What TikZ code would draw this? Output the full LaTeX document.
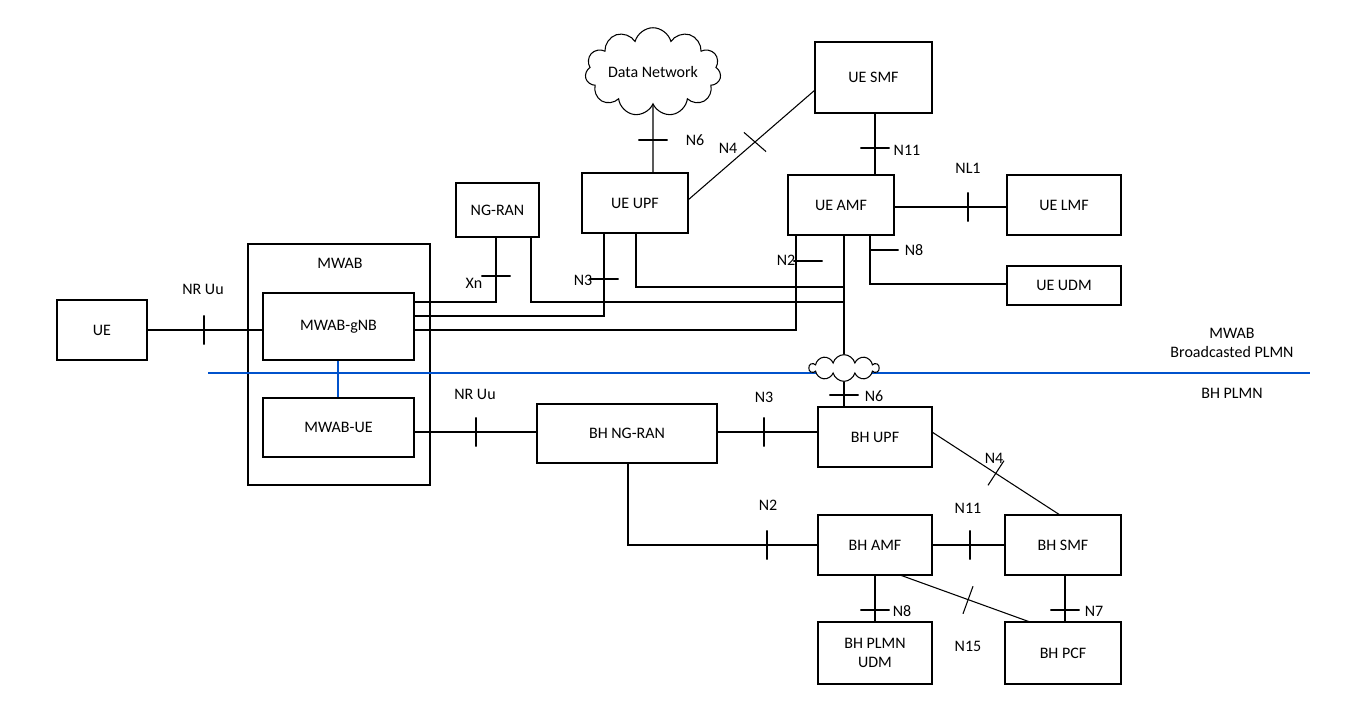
\documentclass[tikz,border=0pt]{standalone}
\usepackage{fontspec}
\setmainfont{Carlito}
\usetikzlibrary{shapes.symbols}
\begin{document}
\begin{tikzpicture}[x=0.75pt,y=-0.75pt,
  box/.style={draw,line width=0.8pt,inner sep=0pt,align=center,font=\fontsize{12}{14}\selectfont},
  lbl/.style={font=\fontsize{12}{14}\selectfont,inner sep=0pt},
  ln/.style={line width=0.8pt},
  tickv/.style={draw,line width=0.8pt,minimum width=0pt,minimum height=22pt,inner sep=0pt},
  tickh/.style={draw,line width=0.8pt,minimum width=22pt,minimum height=0pt,inner sep=0pt},
  blue line/.style={draw=blue!60!cyan!80!black,line width=0.9pt}]
\useasboundingbox (0,0) rectangle (1364,725);
\newcommand{\bx}[6]{\node[box,minimum width={(#4-#2)*0.75pt},minimum height={(#5-#3)*0.75pt}] (#1) at ({(#2+#4)/2},{(#3+#5)/2}) {#6};}
\bx{ue}{57}{300}{147}{360}{UE}
\bx{mwab}{248}{244}{430}{485}{}
\node[lbl] at (340,263) {MWAB};
\bx{gnb}{263}{293}{414}{360}{MWAB-gNB}
\bx{mue}{263}{398}{414}{457}{MWAB-UE}
\bx{ngran}{456}{183}{539}{237}{NG-RAN}
\bx{upf}{582}{173}{688}{233}{UE UPF}
\bx{amf}{788}{175}{894}{235}{UE AMF}
\bx{smf}{815}{42}{932}{113}{UE SMF}
\bx{lmf}{1007}{175}{1121}{235}{UE LMF}
\bx{udm}{1007}{266}{1121}{305}{UE UDM}
\bx{bhran}{537}{404}{717}{463}{BH NG-RAN}
\bx{bhupf}{818}{407}{932}{467}{BH UPF}
\bx{bhamf}{818}{515}{932}{575}{BH AMF}
\bx{bhsmf}{1005}{515}{1121}{575}{BH SMF}
\bx{bhudm}{818}{622}{932}{684}{BH PLMN\\UDM}
\bx{bhpcf}{1005}{622}{1121}{684}{BH PCF}
\node[cloud,draw,line width=0.8pt,cloud puffs=11,minimum width=92pt,minimum height=46pt,inner sep=0pt,font=\fontsize{12}{14}\selectfont,aspect=2] (dn) at (653,72) {Data Network};
% blue line
\draw[blue line] (208,373) -- (1310,373);
\draw[blue line] (gnb.south -| 338,0) -- (mue.north -| 338,0);
% cloud small
\node[cloud,draw,fill=white,line width=0.8pt,cloud puffs=10,minimum width=52pt,minimum height=20pt,inner sep=0pt,aspect=3.5] (sc) at (844,368) {};
% UE side connections
\draw[ln] (ue.east |- 0,330) -- (gnb.west |- 0,330);
\node[tickv] at (204,330) {};
\node[lbl] at (203,289) {NR Uu};
\draw[ln] (414,302) -- (496,302) -- (496,237);
\node[tickh] at (496,276) {};
\node[lbl] at (474,283) {Xn};
\draw[ln] (531,237) -- (531,302) -- (844,302);
\draw[ln] (414,316) -- (604,316) -- (604,233);
\node[tickh] at (604,279) {};
\node[lbl] at (583,280) {N3};
\draw[ln] (414,330) -- (796,330) -- (796,235);
\node[tickh] at (808,261) {};
\node[lbl] at (786,260) {N2};
\draw[ln] (636,233) -- (636,287) -- (844,287);
\draw[ln] (844,235) -- (sc.north);
\draw[ln] (sc.south) -- (bhupf.north -| 844,0);
\node[tickh] at (844,395) {};
\node[lbl] at (874,396) {N6};
\draw[ln] (870,235) -- (870,284) -- (udm.west |- 0,284);
\node[tickh] at (884,250) {};
\node[lbl] at (914,250) {N8};
\draw[ln] (amf.east |- 0,207) -- (lmf.west |- 0,207);
\node[tickv] at (968,207) {};
\node[lbl] at (968,168) {NL1};
\draw[ln] (smf.south -| 875,0) -- (amf.north -| 875,0);
\node[tickh] at (875,148) {};
\node[lbl] at (907,150) {N11};
\draw[ln] (dn.south) -- (upf.north -| 653,0);
\node[tickh] at (653,140) {};
\node[lbl] at (695,140) {N6};
\draw[ln] (688,200) -- (815,90);
\node[tickv,rotate=49] at (755,142) {};
\node[lbl] at (728,148) {N4};
% BH side
\draw[ln] (mue.east |- 0,432) -- (bhran.west |- 0,432);
\node[tickv] at (476,432) {};
\node[lbl] at (475,394) {NR Uu};
\draw[ln] (bhran.east |- 0,432) -- (bhupf.west |- 0,432);
\node[tickv] at (764,432) {};
\node[lbl] at (764,397) {N3};
\draw[ln] (628,463) -- (628,545) -- (bhamf.west |- 0,545);
\node[tickv] at (767,545) {};
\node[lbl] at (768,505) {N2};
\draw[ln] (932,432) -- (1060,515);
\node[tickv,rotate=-33] at (996,473) {};
\node[lbl] at (994,458) {N4};
\draw[ln] (bhamf.east |- 0,545) -- (bhsmf.west |- 0,545);
\node[tickv] at (970,545) {};
\node[lbl] at (968,508) {N11};
\draw[ln] (bhamf.south -| 875,0) -- (bhudm.north -| 875,0);
\node[tickh] at (875,610) {};
\node[lbl] at (902,611) {N8};
\draw[ln] (900,575) -- (1030,622);
\node[tickv,rotate=-20] at (968,600) {};
\node[lbl] at (968,646) {N15};
\draw[ln] (bhsmf.south -| 1065,0) -- (bhpcf.north -| 1065,0);
\node[tickh] at (1065,610) {};
\node[lbl] at (1094,611) {N7};
% right labels
\node[lbl,align=center] at (1232,343) {MWAB\\Broadcasted PLMN};
\node[lbl] at (1232,393) {BH PLMN};
\end{tikzpicture}
\end{document}
